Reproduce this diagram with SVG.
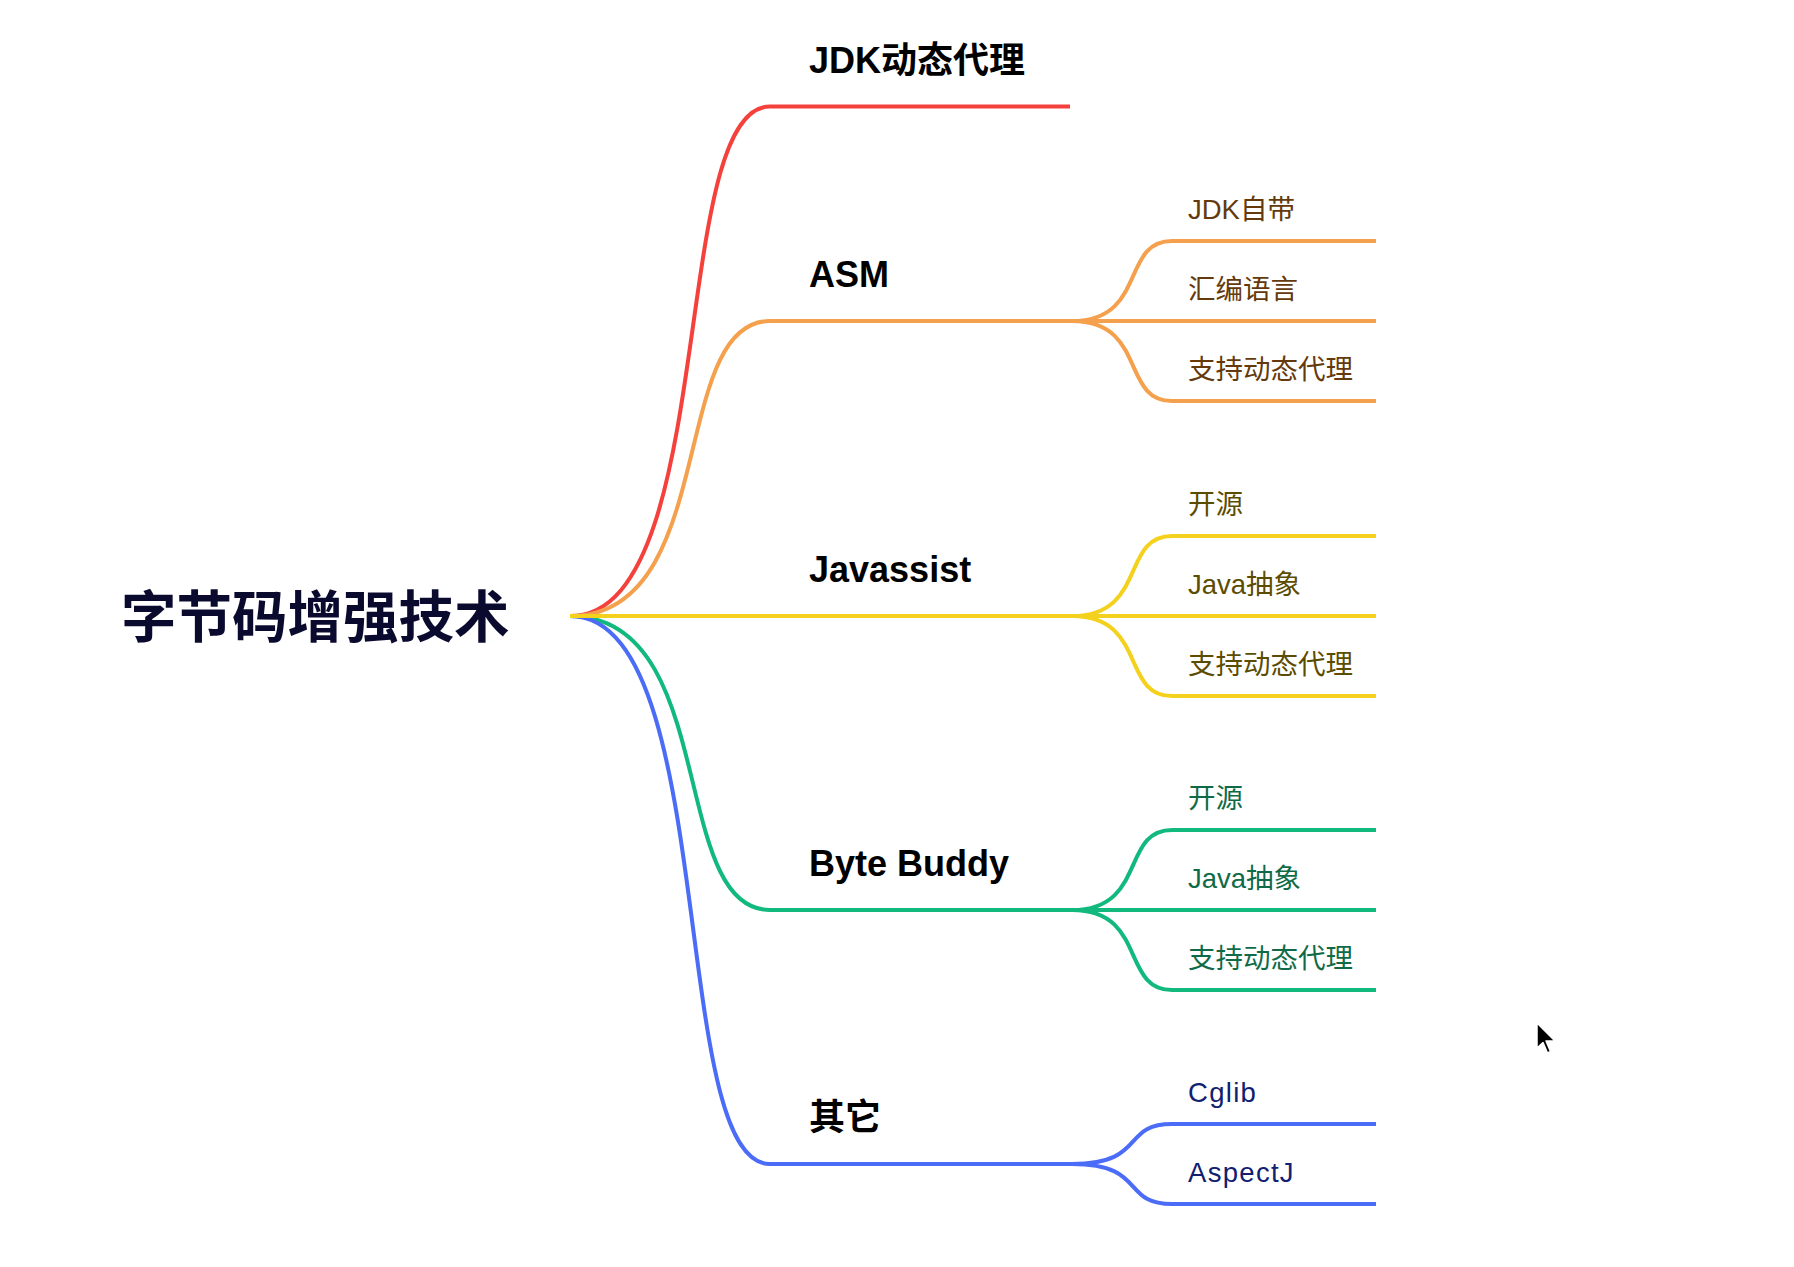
<svg xmlns="http://www.w3.org/2000/svg" width="1794" height="1267" viewBox="0 0 1794 1267">
<style>
.ln{fill:none;stroke-width:4;stroke-linecap:butt}
.red{stroke:#f5413c}.org{stroke:#f4a04c}.yel{stroke:#f4d11c}.grn{stroke:#12b97e}.blu{stroke:#4a6cf6}
.root{font-family:"Noto Sans CJK SC","Liberation Sans",sans-serif;font-weight:700;font-size:55.5px;fill:#0a0a2f}
.l1{font-family:"Liberation Sans","Noto Sans CJK SC",sans-serif;font-weight:700;font-size:36px;fill:#000}
.l2{font-family:"Liberation Sans","Noto Sans CJK SC",sans-serif;font-weight:400;font-size:27.5px}
.wide{letter-spacing:1.3px}
.t-org{fill:#643a0c}.t-yel{fill:#5c4c00}.t-grn{fill:#0f6b47}.t-blu{fill:#112070}
</style>
<rect width="1794" height="1267" fill="#fff"/>
<g id="connectors">
<path class="ln red" d="M570,616 C720,616 668,106.5 770,106.5 L1070,106.5"/>
<path class="ln org" d="M570,616 C720,616 668,321 770,321 L1072,321"/>
<path class="ln grn" d="M570,616 C720,616 668,910 770,910 L1072,910"/>
<path class="ln blu" d="M570,616 C720,616 668,1164 770,1164 L1072,1164"/>
<path class="ln yel" d="M570,616 L1072,616"/>
<path class="ln org" d="M1072,321 C1147,321 1120.6,241 1172,241 L1376,241"/>
<path class="ln org" d="M1072,321 L1376,321"/>
<path class="ln org" d="M1072,321 C1147,321 1120.6,401 1172,401 L1376,401"/>
<path class="ln yel" d="M1072,616 C1147,616 1120.6,536 1172,536 L1376,536"/>
<path class="ln yel" d="M1072,616 L1376,616"/>
<path class="ln yel" d="M1072,616 C1147,616 1120.6,696 1172,696 L1376,696"/>
<path class="ln grn" d="M1072,910 C1147,910 1120.6,830 1172,830 L1376,830"/>
<path class="ln grn" d="M1072,910 L1376,910"/>
<path class="ln grn" d="M1072,910 C1147,910 1120.6,990 1172,990 L1376,990"/>
<path class="ln blu" d="M1072,1164 C1147,1164 1120.6,1124 1172,1124 L1376,1124"/>
<path class="ln blu" d="M1072,1164 C1147,1164 1120.6,1204 1172,1204 L1376,1204"/>
</g>
<g id="root"><text class="root" x="121" y="637">字节码增强技术</text></g>
<g id="n-jdk"><text class="l1" x="809" y="72.5">JDK动态代理</text></g>
<g id="n-asm"><text class="l1" x="809" y="287">ASM</text></g>
<g id="n-asm-1"><text class="l2 t-org" x="1188" y="219">JDK自带</text></g>
<g id="n-asm-2"><text class="l2 t-org" x="1188" y="299">汇编语言</text></g>
<g id="n-asm-3"><text class="l2 t-org" x="1188" y="379">支持动态代理</text></g>
<g id="n-jav"><text class="l1" x="809" y="582">Javassist</text></g>
<g id="n-jav-1"><text class="l2 t-yel" x="1188" y="514">开源</text></g>
<g id="n-jav-2"><text class="l2 t-yel" x="1188" y="594">Java抽象</text></g>
<g id="n-jav-3"><text class="l2 t-yel" x="1188" y="674">支持动态代理</text></g>
<g id="n-bb"><text class="l1" x="809" y="876">Byte Buddy</text></g>
<g id="n-bb-1"><text class="l2 t-grn" x="1188" y="808">开源</text></g>
<g id="n-bb-2"><text class="l2 t-grn" x="1188" y="888">Java抽象</text></g>
<g id="n-bb-3"><text class="l2 t-grn" x="1188" y="968">支持动态代理</text></g>
<g id="n-other"><text class="l1" x="809" y="1130">其它</text></g>
<g id="n-other-1"><text class="l2 t-blu wide" x="1188" y="1102">Cglib</text></g>
<g id="n-other-2"><text class="l2 t-blu wide" x="1188" y="1182">AspectJ</text></g>
<g id="cursor"><path d="M1537,1023 L1537,1048 L1543,1042.5 L1547.5,1053 L1550.5,1051.5 L1546,1041 L1555,1041 Z" fill="#000" stroke="#fff" stroke-width="1.5" stroke-linejoin="round"/></g>
</svg>
